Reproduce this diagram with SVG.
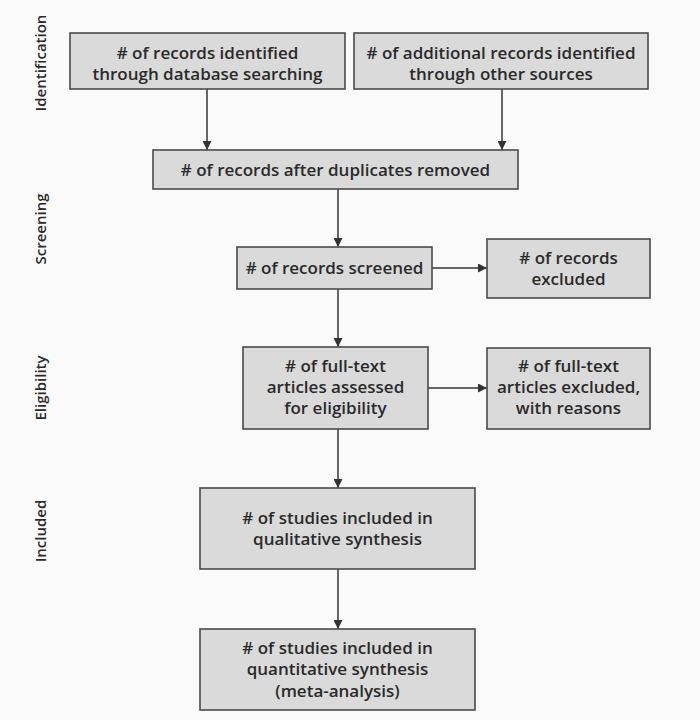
<svg xmlns="http://www.w3.org/2000/svg" width="700" height="720" viewBox="0 0 700 720">
<defs>
<marker id="ah" viewBox="0 0 10 10" refX="10" refY="5" markerWidth="9" markerHeight="9" markerUnits="userSpaceOnUse" orient="auto">
<path d="M0,0 L10,5 L0,10 z" fill="#333"/>
</marker>
<style>
.box{fill:#dadada;stroke:#4a4a4a;stroke-width:1.6}
.t{font-family:"Open Sans","Noto Sans",sans-serif;font-size:17px;font-weight:600;fill:#2a2a2a;text-anchor:middle}
.lab{font-family:"Open Sans","Noto Sans",sans-serif;font-size:15px;font-weight:600;fill:#2a2a2a;text-anchor:middle}
.c{stroke:#333;stroke-width:1.5;fill:none;marker-end:url(#ah)}
</style>
</defs>
<rect x="0" y="0" width="700" height="720" fill="#fafafa"/>
<g id="labels">
<text class="lab" transform="translate(46,63) rotate(-90)">Identification</text>
<text class="lab" transform="translate(46,229) rotate(-90)">Screening</text>
<text class="lab" transform="translate(46,388) rotate(-90)">Eligibility</text>
<text class="lab" transform="translate(46,531) rotate(-90)">Included</text>
</g>
<g id="connectors">
<line class="c" x1="207" y1="89" x2="207" y2="150"/>
<line class="c" x1="502" y1="89" x2="502" y2="150"/>
<line class="c" x1="338" y1="189" x2="338" y2="247"/>
<line class="c" x1="338" y1="289" x2="338" y2="347"/>
<line class="c" x1="338" y1="429" x2="338" y2="488"/>
<line class="c" x1="338" y1="569" x2="338" y2="629"/>
<line class="c" x1="432" y1="268" x2="487" y2="268"/>
<line class="c" x1="428" y1="388" x2="487" y2="388"/>
</g>
<g id="n1"><rect class="box" x="70" y="33" width="275" height="56"/>
<text class="t"><tspan x="207.5" y="59"># of records identified</tspan><tspan x="207.5" y="80">through database searching</tspan></text></g>
<g id="n2"><rect class="box" x="354" y="33" width="294" height="56"/>
<text class="t"><tspan x="501" y="59"># of additional records identified</tspan><tspan x="501" y="80">through other sources</tspan></text></g>
<g id="n3"><rect class="box" x="153" y="150" width="365" height="39"/>
<text class="t" x="335.5" y="176"># of records after duplicates removed</text></g>
<g id="n4"><rect class="box" x="237" y="247" width="195" height="42"/>
<text class="t" x="334.5" y="274"># of records screened</text></g>
<g id="n5"><rect class="box" x="487" y="239" width="163" height="59"/>
<text class="t"><tspan x="568.5" y="264"># of records</tspan><tspan x="568.5" y="285">excluded</tspan></text></g>
<g id="n6"><rect class="box" x="243" y="347" width="185" height="82"/>
<text class="t"><tspan x="335.5" y="372"># of full-text</tspan><tspan x="335.5" y="393">articles assessed</tspan><tspan x="335.5" y="414">for eligibility</tspan></text></g>
<g id="n7"><rect class="box" x="487" y="348" width="163" height="81"/>
<text class="t"><tspan x="568.5" y="372"># of full-text</tspan><tspan x="568.5" y="393">articles excluded,</tspan><tspan x="568.5" y="414">with reasons</tspan></text></g>
<g id="n8"><rect class="box" x="200" y="488" width="275" height="81"/>
<text class="t"><tspan x="337.5" y="524"># of studies included in</tspan><tspan x="337.5" y="545">qualitative synthesis</tspan></text></g>
<g id="n9"><rect class="box" x="200" y="629" width="275" height="81"/>
<text class="t"><tspan x="337.5" y="654"># of studies included in</tspan><tspan x="337.5" y="675">quantitative synthesis</tspan><tspan x="337.5" y="697">(meta-analysis)</tspan></text></g>
</svg>
